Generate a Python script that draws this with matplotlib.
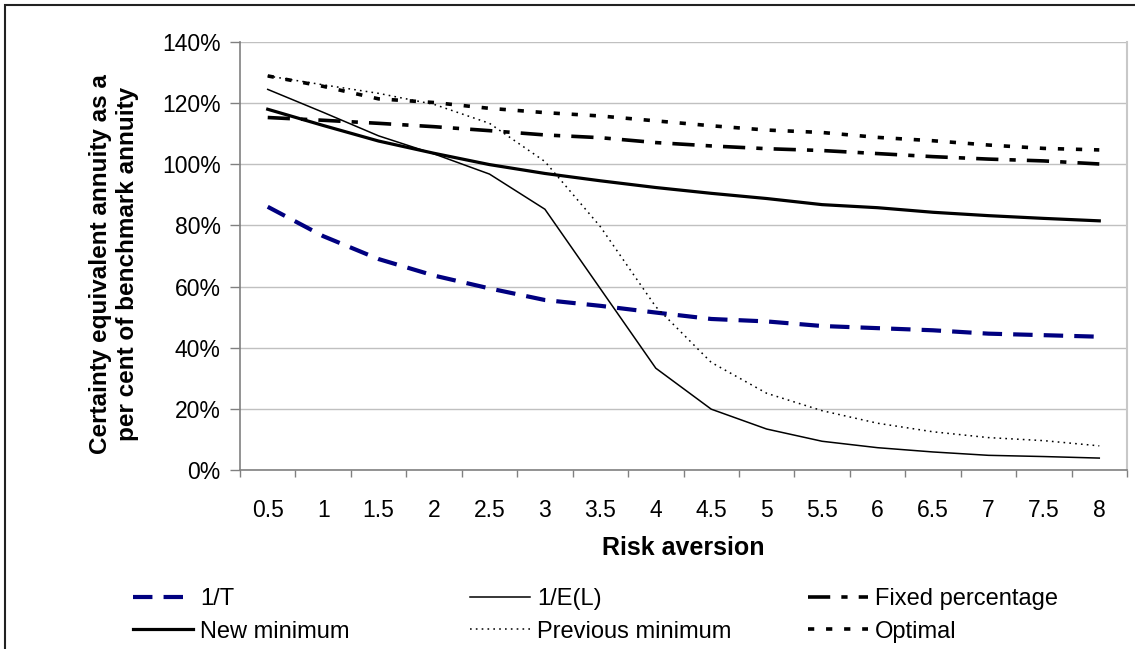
import numpy as np
import matplotlib.pyplot as plt
from matplotlib.patches import Rectangle
from matplotlib.ticker import FuncFormatter, FixedLocator

plt.rcParams['font.family'] = ['Liberation Sans', 'DejaVu Sans']
plt.rcParams['lines.scale_dashes'] = False

risk = ['0.5', '1', '1.5', '2', '2.5', '3', '3.5', '4',
        '4.5', '5', '5.5', '6', '6.5', '7', '7.5', '8']

one_over_t = [86.1, 76.5, 69.0, 63.6, 59.4, 55.6, 53.7, 51.5,
              49.4, 48.6, 47.1, 46.4, 45.7, 44.6, 44.1, 43.6]
one_over_el = [124.5, 117.0, 109.3, 103.4, 96.8, 85.3, 59.3, 33.3,
               19.9, 13.4, 9.4, 7.3, 5.9, 4.8, 4.4, 3.9]
fixed_pct = [115.3, 114.4, 113.4, 112.3, 111.0, 109.6, 108.7, 107.1,
             106.0, 105.1, 104.5, 103.5, 102.5, 101.7, 101.1, 100.1]
new_min = [118.0, 112.7, 107.6, 103.6, 99.9, 97.0, 94.6, 92.4,
           90.5, 88.8, 86.8, 85.8, 84.3, 83.2, 82.3, 81.5]
prev_min = [128.9, 126.0, 123.2, 119.6, 113.4, 100.9, 79.6, 53.4,
            35.2, 25.1, 19.4, 15.3, 12.5, 10.6, 9.6, 7.9]
optimal = [128.9, 125.5, 121.4, 120.2, 118.3, 116.9, 115.8, 114.2,
           112.6, 111.2, 110.4, 108.8, 107.7, 106.3, 105.2, 104.7]

W, H = 1135, 649
fig = plt.figure(figsize=(W / 100, H / 100), dpi=100)
# outer frame, only top and left edges fall inside the picture
fig.patches.append(Rectangle((5 / W, -0.1), 1.2, 1.1 - 5 / H,
                             transform=fig.transFigure, fill=False,
                             edgecolor='#222222', linewidth=1.5))
ax = fig.add_axes([240 / W, 1 - 470 / H, 887 / W, 428 / H])

x = np.arange(len(risk))

l_t, = ax.plot(x, one_over_t, color='#000080', lw=3.0, dashes=(14, 8),
               dash_capstyle='butt')
l_el, = ax.plot(x, one_over_el, color='black', lw=1.1)
l_fix, = ax.plot(x, fixed_pct, color='black', lw=2.6, dashes=(16, 8, 4.5, 8),
                 dash_capstyle='butt')
l_new, = ax.plot(x, new_min, color='black', lw=2.3)
l_prev, = ax.plot(x, prev_min, color='black', lw=1.1, dashes=(1.2, 3))
l_opt, = ax.plot(x, optimal, color='black', lw=2.6, dashes=(4.5, 8.5),
                 dash_capstyle='butt')

ax.set_xlim(-0.5, len(risk) - 0.5)
ax.set_ylim(0, 140)
ax.set_yticks(np.arange(0, 141, 20))
ax.yaxis.set_major_formatter(FuncFormatter(lambda v, p: f'{v:.0f}%'))
ax.set_xticks(x)
ax.set_xticklabels(risk)
ax.xaxis.set_minor_locator(FixedLocator(np.arange(-0.5, len(risk), 1)))
ax.tick_params(axis='x', which='major', length=0, pad=21, labelsize=16.5)
ax.tick_params(axis='x', which='minor', length=5, color='#808080', width=1)
ax.tick_params(axis='y', length=7, color='#808080', width=1, labelsize=16.5, pad=7)

ax.grid(axis='y', color='#c0c0c0', lw=1)
ax.set_axisbelow(True)
ax.spines['top'].set_visible(False)
ax.spines['right'].set_color('#c8c8c8')
ax.spines['right'].set_linewidth(1.5)
for s in ['left', 'bottom']:
    ax.spines[s].set_color('#808080')
    ax.spines[s].set_linewidth(1.2)

fig.text(683 / W, 1 - 548 / H, 'Risk aversion', fontsize=18,
         fontweight='bold', ha='center', va='center')
fig.text(114 / W, 1 - 264 / H,
         'Certainty equivalent annuity as a\nper cent of benchmark annuity',
         fontsize=17.5, fontweight='bold', rotation=90, ha='center',
         va='center', multialignment='center', linespacing=1.2)

groups = [([l_t, l_new], ['1/T', 'New minimum'], 133),
          ([l_el, l_prev], ['1/E(L)', 'Previous minimum'], 470),
          ([l_fix, l_opt], ['Fixed percentage', 'Optimal'], 808)]
for hs, labs, x0 in groups:
    fig.legend(hs, labs, loc='upper left',
               bbox_to_anchor=(x0 / W, 1 - 588 / H), frameon=False,
               fontsize=17, handlelength=2.55, handletextpad=0.3,
               labelspacing=0.45, borderpad=0, borderaxespad=0)

fig.savefig('out.png', dpi=100)
